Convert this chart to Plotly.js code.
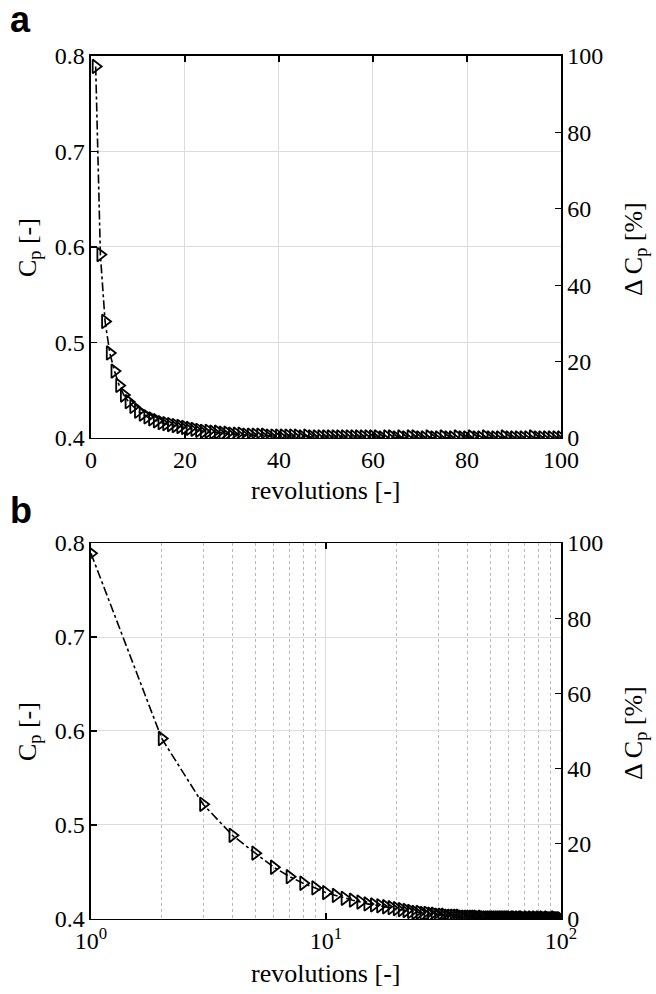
<!DOCTYPE html>
<html>
<head>
<meta charset="utf-8">
<script src="https://cdn.plot.ly/plotly-3.0.1.min.js"></script>
<style>html,body{margin:0;padding:0;background:#fff}#chart{width:656px;height:994px}</style>
</head>
<body>
<div id="chart"></div>
<script>
// revolutions 1..100
const revolutions = [1,2,3,4,5,6,7,8,9,10,11,12,13,14,15,16,17,18,19,20,
21,22,23,24,25,26,27,28,29,30,31,32,33,34,35,36,37,38,39,40,
41,42,43,44,45,46,47,48,49,50,51,52,53,54,55,56,57,58,59,60,
61,62,63,64,65,66,67,68,69,70,71,72,73,74,75,76,77,78,79,80,
81,82,83,84,85,86,87,88,89,90,91,92,93,94,95,96,97,98,99,100];
const cp = [0.789,0.592,0.522,0.489,0.470,0.455,0.445,0.438,0.433,0.428,
0.425,0.422,0.420,0.418,0.416,0.415,0.414,0.413,0.412,0.411,
0.410,0.409,0.408,0.407,0.407,0.406,0.406,0.405,0.405,0.404,
0.404,0.404,0.403,0.403,0.403,0.403,0.403,0.402,0.402,0.402,
0.402,0.402,0.402,0.402,0.401,0.402,0.401,0.401,0.401,0.401,
0.401,0.401,0.401,0.401,0.401,0.401,0.401,0.401,0.401,0.401,
0.401,0.400,0.401,0.401,0.400,0.401,0.400,0.401,0.401,0.400,
0.400,0.401,0.400,0.400,0.401,0.400,0.400,0.401,0.400,0.400,
0.401,0.400,0.400,0.401,0.400,0.400,0.400,0.401,0.400,0.400,
0.400,0.400,0.400,0.401,0.400,0.400,0.400,0.400,0.400,0.400];
const cpTicks = [0.4,0.5,0.6,0.7,0.8];
const dcpTicks = [0,20,40,60,80,100];
const linTicks = [0,20,40,60,80,100];
const logTicks = [1,10,100];
const logTickText = ['10<sup>0</sup>','10<sup>1</sup>','10<sup>2</sup>'];

const F = '"Liberation Serif", serif';
const tickFont = {family: F, size: 24, color: '#000'};
const titleFont = {family: F, size: 26, color: '#000'};
const letterFont = {family: '"Liberation Sans", sans-serif', size: 36, color: '#000'};
const lineStyle = {color: '#000', width: 1.6, dash: 'dashdot'};
const markerStyle = {symbol: 'triangle-right-open', size: 12, color: '#000', line: {color: '#000', width: 1.8}};

const traces = [
  {x: revolutions, y: cp, xaxis: 'x', yaxis: 'y', mode: 'lines+markers', line: lineStyle, marker: markerStyle, showlegend: false},
  {x: [], y: [], xaxis: 'x', yaxis: 'y2', mode: 'lines', showlegend: false, hoverinfo: 'skip'},
  {x: revolutions, y: cp, xaxis: 'x2', yaxis: 'y3', mode: 'lines+markers', line: lineStyle, marker: markerStyle, showlegend: false},
  {x: [], y: [], xaxis: 'x2', yaxis: 'y4', mode: 'lines', showlegend: false, hoverinfo: 'skip'}
];

const xd = [0.1387, 0.8552];
const topD = [0.5594, 0.9437];
const botD = [0.0755, 0.4537];
const base = {
  showline: true, linecolor: '#000', linewidth: 1.5, mirror: false,
  ticks: 'inside', ticklen: 6, tickwidth: 1.3, tickcolor: '#000',
  tickfont: tickFont, zeroline: false, gridcolor: '#dcdcdc', gridwidth: 1
};

const layout = {
  width: 656, height: 994,
  margin: {l: 0, r: 0, t: 0, b: 0},
  paper_bgcolor: '#fff', plot_bgcolor: '#fff',
  showlegend: false,
  font: {family: F, size: 24, color: '#000'},
  xaxis: Object.assign({}, base, {domain: xd, anchor: 'y', range: [0, 100], tickvals: linTicks, showgrid: true, mirror: 'ticks'}),
  yaxis: Object.assign({}, base, {domain: topD, anchor: 'x', range: [0.4, 0.8], tickvals: cpTicks, tickformat: '.1f', showgrid: true}),
  yaxis2: Object.assign({}, base, {overlaying: 'y', anchor: 'x', side: 'right', range: [0, 100], tickvals: dcpTicks, showgrid: false}),
  xaxis2: Object.assign({}, base, {domain: xd, anchor: 'y3', type: 'log', range: [0, 2], tickvals: logTicks, ticktext: logTickText, showgrid: true, mirror: 'ticks',
    minor: {dtick: 'D1', showgrid: true, griddash: 'dot', gridcolor: '#b8b8b8', gridwidth: 1, ticks: ''}}),
  yaxis3: Object.assign({}, base, {domain: botD, anchor: 'x2', range: [0.4, 0.8], tickvals: cpTicks, tickformat: '.1f', showgrid: true}),
  yaxis4: Object.assign({}, base, {overlaying: 'y3', anchor: 'x2', side: 'right', range: [0, 100], tickvals: dcpTicks, showgrid: false}),
  annotations: [
    {text: '<b>a</b>', x: 0.012, y: 1.003, xref: 'paper', yref: 'paper', xanchor: 'left', yanchor: 'top', showarrow: false, font: letterFont},
    {text: '<b>b</b>', x: 0.012, y: 0.509, xref: 'paper', yref: 'paper', xanchor: 'left', yanchor: 'top', showarrow: false, font: letterFont},
    {text: 'revolutions [-]', x: 0.4969, y: 1 - 490/994, xref: 'paper', yref: 'paper', xanchor: 'center', yanchor: 'middle', showarrow: false, font: titleFont},
    {text: 'revolutions [-]', x: 0.4969, y: 1 - 973/994, xref: 'paper', yref: 'paper', xanchor: 'center', yanchor: 'middle', showarrow: false, font: titleFont},
    {text: 'C<sub>p</sub> [-]', x: 29/656, y: 1 - 248/994, xref: 'paper', yref: 'paper', xanchor: 'center', yanchor: 'middle', textangle: -90, showarrow: false, font: titleFont},
    {text: 'C<sub>p</sub> [-]', x: 29/656, y: 1 - 732/994, xref: 'paper', yref: 'paper', xanchor: 'center', yanchor: 'middle', textangle: -90, showarrow: false, font: titleFont},
    {text: '\u0394 C<sub>p</sub> [%]', x: 635/656, y: 1 - 249/994, xref: 'paper', yref: 'paper', xanchor: 'center', yanchor: 'middle', textangle: -90, showarrow: false, font: titleFont},
    {text: '\u0394 C<sub>p</sub> [%]', x: 635/656, y: 1 - 733/994, xref: 'paper', yref: 'paper', xanchor: 'center', yanchor: 'middle', textangle: -90, showarrow: false, font: titleFont}
  ]
};

Plotly.newPlot('chart', traces, layout, {staticPlot: true, displayModeBar: false});
</script>
</body>
</html>
